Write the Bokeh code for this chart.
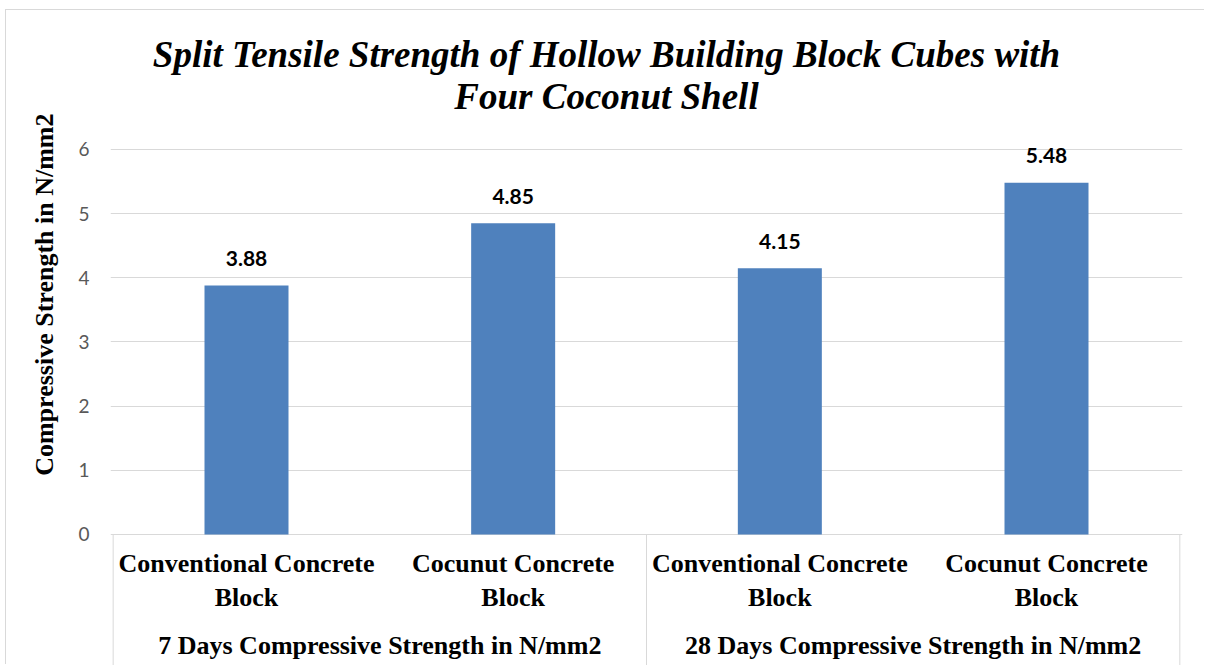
from bokeh.plotting import figure
from bokeh.models import (FactorRange, Range1d, FixedTicker, ColumnDataSource,
                          Label, Title)
from bokeh.core.properties import value
from bokeh.embed import file_html
from bokeh.resources import INLINE

# ---------------- data ----------------
title_lines = ["Split Tensile Strength of Hollow Building Block Cubes with",
               "Four Coconut Shell"]
groups = ["7 Days Compressive Strength in N/mm2",
          "28 Days Compressive Strength in N/mm2"]
categories = ["Conventional Concrete Block", "Cocunut Concrete Block"]
category_labels = ["Conventional Concrete\nBlock", "Cocunut Concrete\nBlock"]
values = [3.88, 4.85, 4.15, 5.48]
y_ticks = [0, 1, 2, 3, 4, 5, 6]
y_label = "Compressive Strength in N/mm2"

# ---------------- derived ----------------
factors = [(g, c) for g in groups for c in categories]
label_of = dict(zip(categories, category_labels))

SERIF = value("Liberation Serif")
SANS = value("Lato")
GRID = "#D9D9D9"

p = figure(
    x_range=FactorRange(*factors, group_padding=0, factor_padding=0,
                        subgroup_padding=0, range_padding=0.005),
    y_range=Range1d(-2.0416, 8.1662),
    width=1199, height=655,
    output_backend="svg", toolbar_location=None, title=None,
    x_axis_location=None,
    min_border_left=104, min_border_right=23,
    min_border_top=0, min_border_bottom=0,
    styles={"margin-left": "6px", "margin-top": "10px",
            "box-shadow": "-1px -1px 0 0 #D9D9D9"},
)
p.outline_line_color = None
p.background_fill_color = "white"
p.border_fill_color = "white"

# y axis
ticker = FixedTicker(ticks=y_ticks)
p.yaxis.ticker = ticker
p.yaxis.axis_line_color = None
p.yaxis.major_tick_line_color = None
p.yaxis.minor_tick_line_color = None
p.yaxis.major_tick_out = 0
p.yaxis.major_tick_in = 0
p.yaxis.major_label_standoff = 21
p.yaxis.major_label_text_font = "Lato"
p.yaxis.major_label_text_font_size = "19px"
p.yaxis.major_label_text_color = "#595959"
p.ygrid.ticker = ticker
p.ygrid.grid_line_color = GRID
p.ygrid.grid_line_width = 1
p.xgrid.grid_line_color = None

# y axis title (side title anchored near the top of the frame)
p.add_layout(Title(text=y_label, align="right", offset=103,
                   text_font="Liberation Serif", text_font_style="bold",
                   text_font_size="26px", text_color="#000000",
                   standoff=34), "left")

# bars
src = ColumnDataSource(dict(
    x=factors, top=values,
    lbl=[f"{v:.2f}" for v in values],
    cat=[label_of[c] for _, c in factors],
    zero=[0] * len(factors),
))
p.vbar(x="x", top="top", width=0.315, source=src,
       fill_color="#4F81BD", line_color=None)

# data labels
p.text(x="x", y="top", text="lbl", source=src,
       text_font=SANS, text_font_style="bold", text_font_size="21px",
       text_color="#000000", text_align="center", text_baseline="middle",
       y_offset=-27)

# category labels
p.text(x="x", y="zero", text="cat", source=src,
       text_font=SERIF, text_font_style="bold", text_font_size="26px",
       text_color="#000000", text_align="center", text_baseline="middle",
       text_line_height=1.15, y_offset=46)

# group labels
gsrc = ColumnDataSource(dict(x=groups, zero=[0] * len(groups), text=groups))
p.text(x="x", y="zero", text="text", source=gsrc,
       text_font=SERIF, text_font_style="bold", text_font_size="26px",
       text_color="#000000", text_align="center", text_baseline="middle",
       y_offset=111)

# separators between groups (at group boundaries, synthetic coordinates)
bounds = [0]
for g in groups:
    bounds.append(bounds[-1] + sum(1 for f in factors if f[0] == g))
ssrc = ColumnDataSource(dict(x=bounds, y0=[0] * len(bounds), y1=[-3] * len(bounds)))
p.segment(x0="x", y0="y0", x1="x", y1="y1", source=ssrc,
          line_color=GRID, line_width=1)

# chart title
for text, ys in zip(title_lines, [611, 569]):
    p.add_layout(Label(x=496, y=ys, x_units="screen", y_units="screen",
                       text=text, text_font="Liberation Serif",
                       text_font_style="bold italic", text_font_size="37px",
                       text_align="center", text_baseline="middle",
                       text_color="#000000"))

open("out.html", "w").write(file_html(p, INLINE))
